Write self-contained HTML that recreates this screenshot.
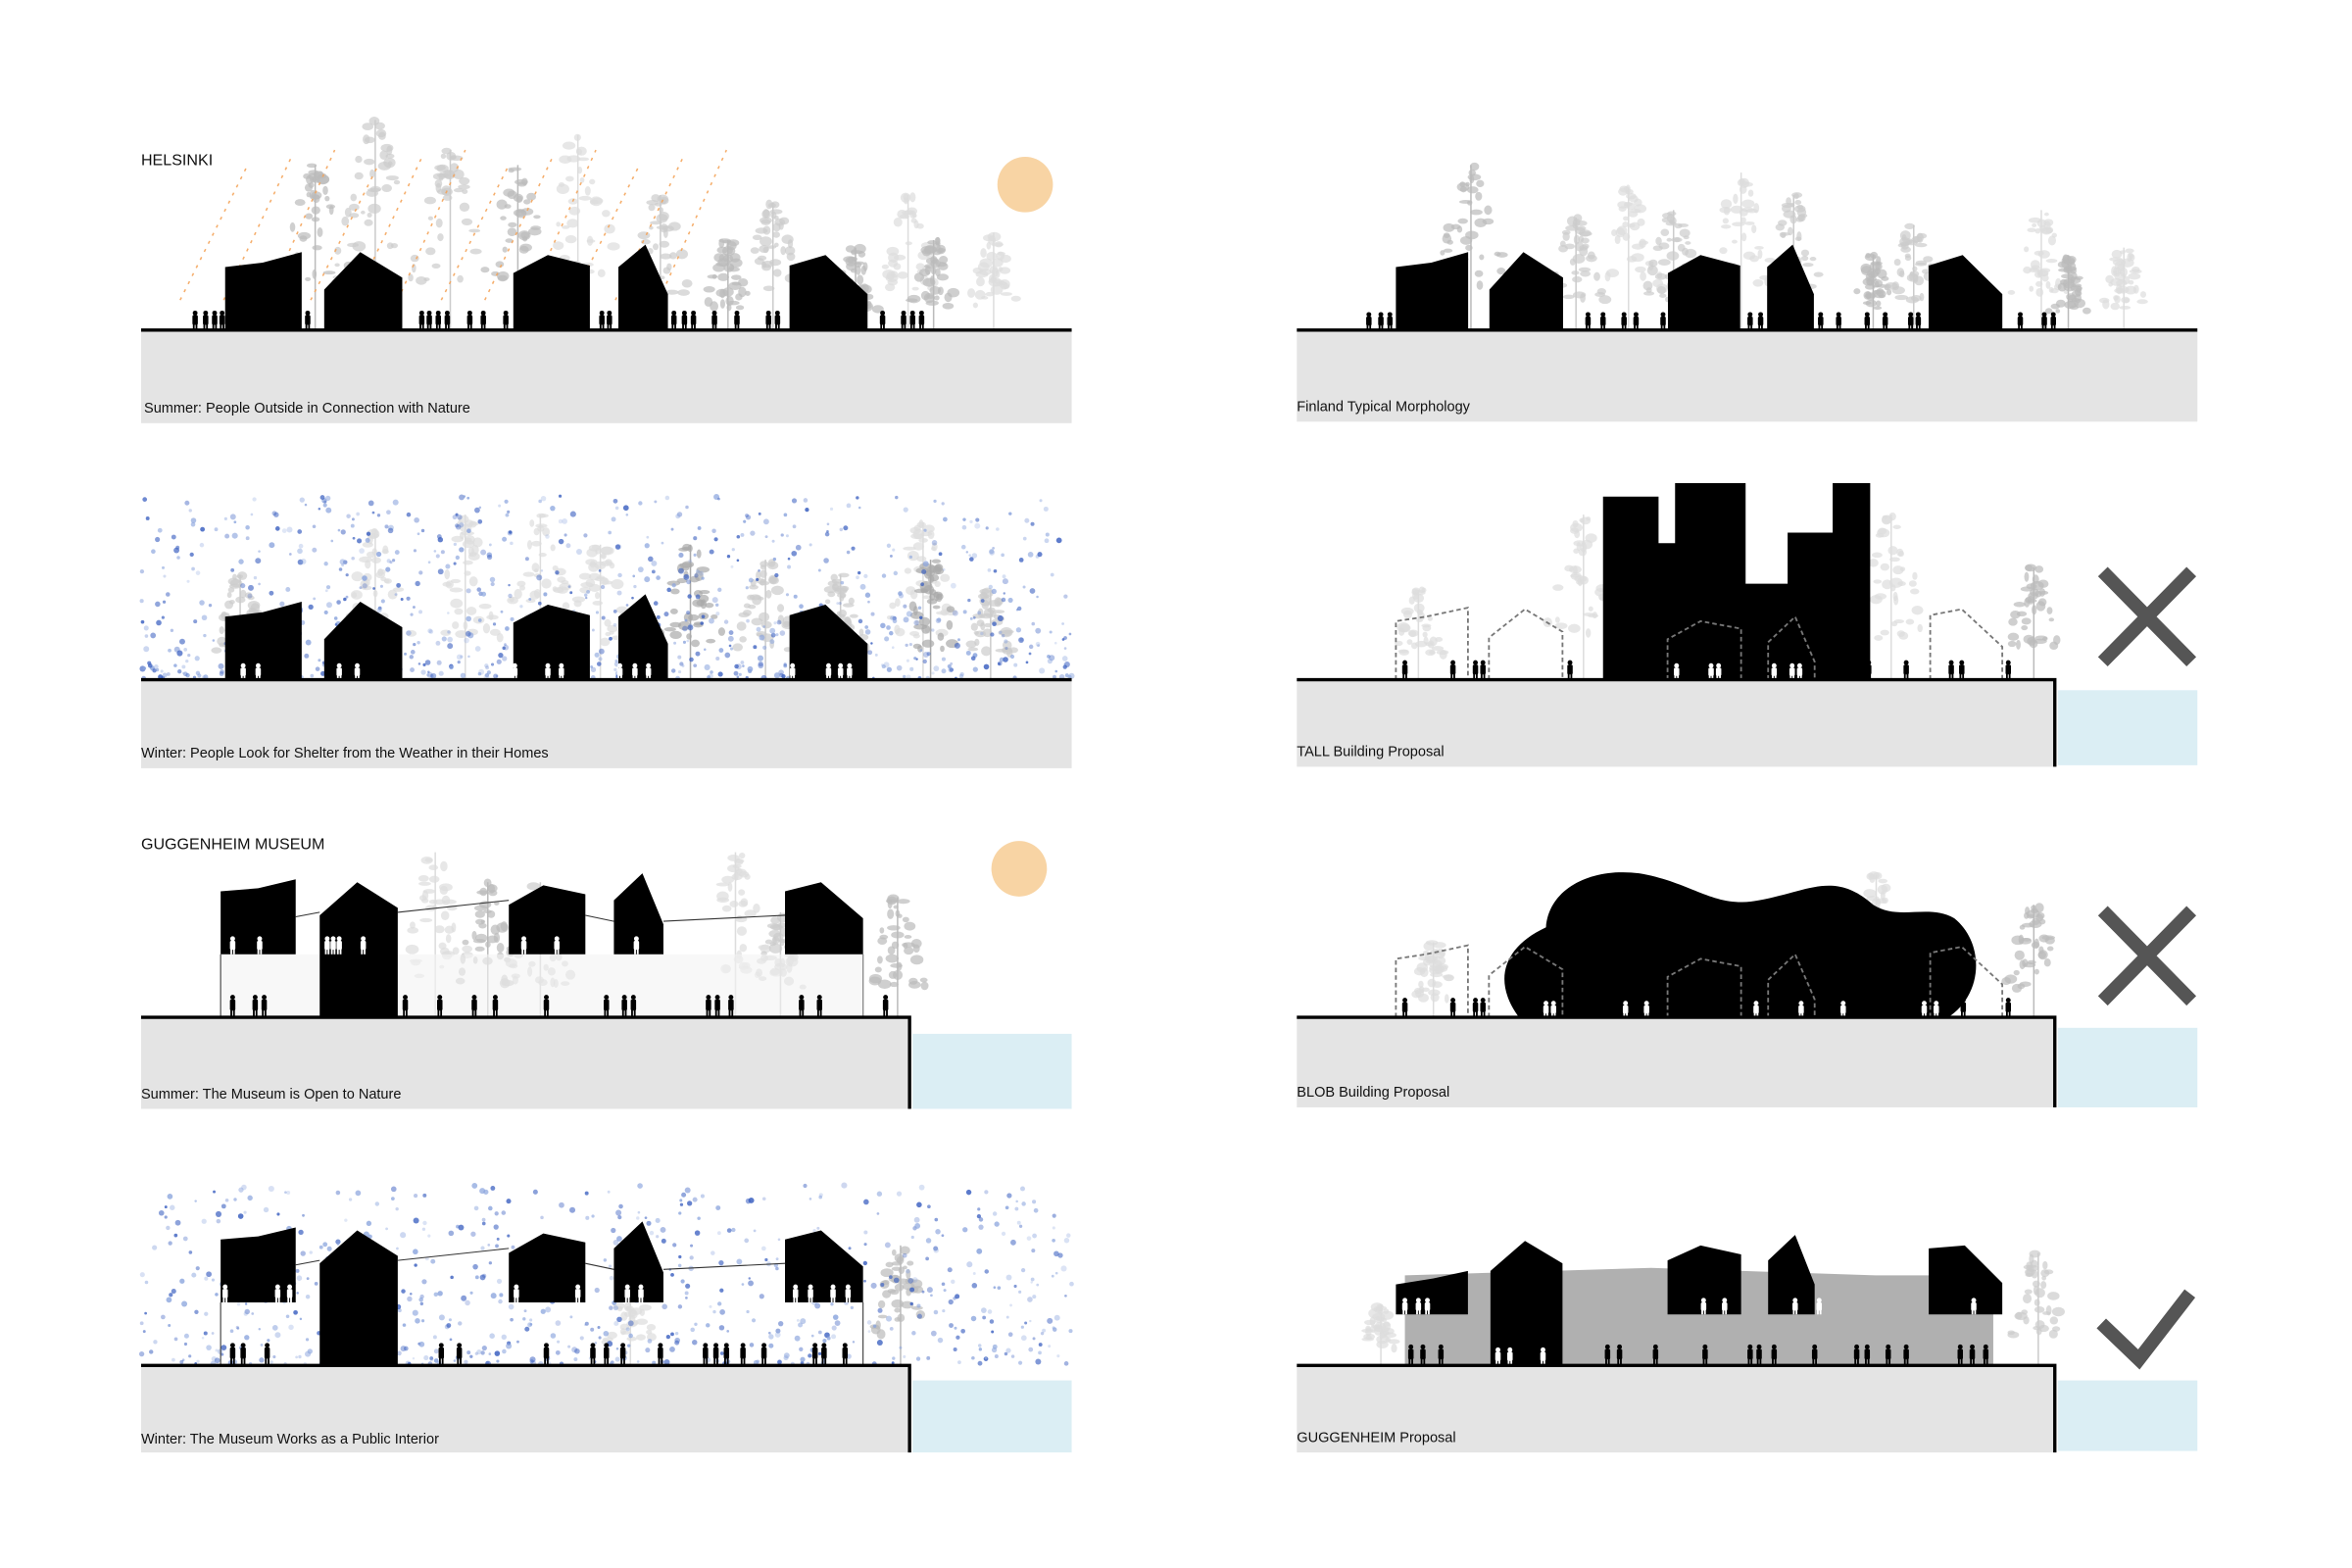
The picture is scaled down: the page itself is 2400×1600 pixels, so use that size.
<!DOCTYPE html>
<html><head><meta charset="utf-8"><style>
html,body{margin:0;padding:0;background:#fff;width:2400px;height:1600px;overflow:hidden}
svg{display:block}
text{font-family:"Liberation Sans",sans-serif;fill:#111}
</style></head><body>
<svg id="s" width="2400" height="1600" viewBox="0 0 1567 1045" preserveAspectRatio="none" xmlns="http://www.w3.org/2000/svg">
<g id="bg"></g>
<rect x="94" y="221" width="620" height="61" fill="#e4e4e4"/>
<rect x="94" y="454" width="620" height="58" fill="#e4e4e4"/>
<rect x="94" y="679" width="512" height="60" fill="#e4e4e4"/>
<rect x="608" y="689" width="106" height="50" fill="#dbeef4"/>
<rect x="94" y="911" width="512" height="57" fill="#e4e4e4"/>
<rect x="608" y="920" width="106" height="48" fill="#dbeef4"/>
<rect x="864" y="221" width="600" height="60" fill="#e4e4e4"/>
<rect x="864" y="454" width="505" height="57" fill="#e4e4e4"/>
<rect x="1371" y="460" width="93" height="50" fill="#dbeef4"/>
<rect x="864" y="679" width="505" height="59" fill="#e4e4e4"/>
<rect x="1371" y="685" width="93" height="53" fill="#dbeef4"/>
<rect x="864" y="911" width="505" height="57" fill="#e4e4e4"/>
<rect x="1371" y="920" width="93" height="47" fill="#dbeef4"/>
<g id="mid"></g>
<circle cx="683" cy="123" r="18.5" fill="#f8d4a4"/>
<circle cx="679" cy="579" r="18.5" fill="#f8d4a4"/>
<path d="M936,910 L936,850 L1100,845 L1250,850 L1328,850 L1328,910 Z" fill="#b0b0b0"/>
<g stroke="#333" stroke-width="0.7" fill="none">
<path d="M147,678 V636 M575,678 V636 M197,611 L213,608 M265,608 L339,600 M390,610 L409,614 M442,614 L523,610"/>
<path d="M147,910 V868 M575,910 V868 M197,843 L213,840 M265,840 L339,832 M390,842 L409,846 M442,846 L523,842"/>
</g>
<rect x="148" y="636" width="427" height="42" fill="#f4f4f4" opacity="0.6"/>
<g id="bld" fill="#000"></g>
<g id="fg"></g>
<g stroke="#000" stroke-width="2.2" fill="none">
<path d="M94,220 H714"/><path d="M94,453 H714"/>
<path d="M94,678 H606 V739"/><path d="M94,910 H606 V968"/>
<path d="M864,220 H1464"/><path d="M864,453 H1369 V511"/>
<path d="M864,678 H1369 V738"/><path d="M864,910 H1369 V968"/>
</g>
<g stroke="#555" stroke-width="9" fill="none">
<path d="M1401,381 L1460,441 M1460,381 L1401,441"/>
<path d="M1401,607 L1460,667 M1460,607 L1401,667"/>
<path d="M1400,882 L1425,906 L1459,862"/>
</g>
<text x="94" y="110" font-size="10.5">HELSINKI</text>
<text x="94" y="566" font-size="10.5">GUGGENHEIM MUSEUM</text>
<text x="96" y="275" font-size="9.5">Summer: People Outside in Connection with Nature</text>
<text x="94" y="505" font-size="9.5">Winter: People Look for Shelter from the Weather in their Homes</text>
<text x="94" y="732" font-size="9.5">Summer: The Museum is Open to Nature</text>
<text x="94" y="962" font-size="9.5">Winter: The Museum Works as a Public Interior</text>
<text x="864" y="274" font-size="9.5">Finland Typical Morphology</text>
<text x="864" y="504" font-size="9.5">TALL Building Proposal</text>
<text x="864" y="731" font-size="9.5">BLOB Building Proposal</text>
<text x="864" y="961" font-size="9.5">GUGGENHEIM Proposal</text>
</svg>
<script>
var NS="http://www.w3.org/2000/svg";
var seed=7;function R(){seed=(seed*16807)%2147483647;return (seed-1)/2147483646;}
function el(p,t,a){var e=document.createElementNS(NS,t);for(var k in a)e.setAttribute(k,a[k]);document.getElementById(p).appendChild(e);return e;}
function tree(g,x,base,h,c){
  el(g,"line",{x1:x,y1:base,x2:x,y2:base-h,stroke:c,"stroke-width":1});
  for(var i=0;i<40;i++){var t=R();var yy=base-h*0.25-t*h*0.75;var w=(1-t)*h*0.22+4;
   el(g,"ellipse",{cx:x+(R()-0.5)*2*w,cy:yy,rx:1.5+R()*3,ry:1.2+R()*2.2,fill:c,opacity:0.7});}
}
function person(g,x,base,c,h){h=h||13;
  el(g,"circle",{cx:x,cy:base-h+1.6,r:1.6,fill:c});
  el(g,"rect",{x:x-1.8,y:base-h+3,width:3.6,height:h*0.5,rx:1,fill:c});
  el(g,"rect",{x:x-1.5,y:base-h*0.5+2,width:1.2,height:h*0.5-2,fill:c});
  el(g,"rect",{x:x+0.3,y:base-h*0.5+2,width:1.2,height:h*0.5-2,fill:c});
}
function dots(x0,x1,y0,y1,n){for(var i=0;i<n;i++){var x=x0+R()*(x1-x0);var y=y1-Math.pow(R(),1.6)*(y1-y0);
 el("mid","circle",{cx:x,cy:y,r:0.8+R()*1.2,fill:R()<0.5?"#3a5fc0":"#8aa4dd",opacity:0.25+R()*0.6});}}
var tl=[[210,110,"#bbb"],[250,140,"#ccc"],[300,120,"#ccc"],[345,110,"#bbb"],[385,130,"#ddd"],[440,90,"#ccc"],[485,60,"#bbb"],[515,85,"#ccc"],[570,55,"#bbb"],[605,90,"#ddd"],[622,60,"#bbb"],[662,65,"#ddd"]];
tl.forEach(function(t){tree("bg",t[0],220,t[1],t[2]);});
var tl2=[[160,70,"#ccc"],[250,100,"#ddd"],[310,110,"#ddd"],[360,110,"#ddd"],[400,90,"#ddd"],[460,90,"#aaa"],[510,80,"#ccc"],[560,70,"#ccc"],[615,105,"#ddd"],[620,80,"#aaa"],[660,60,"#ccc"]];
tl2.forEach(function(t){tree("bg",t[0],453,t[1],t[2]);});
[[290,110,"#ddd"],[325,90,"#bbb"],[360,90,"#ccc"],[490,110,"#ddd"],[520,70,"#ccc"],[598,80,"#bbb"]].forEach(function(t){tree("bg",t[0],678,t[1],t[2]);});
[[600,80,"#bbb"],[420,60,"#ddd"]].forEach(function(t){tree("bg",t[0],910,t[1],t[2]);});
[[980,110,"#bbb"],[1050,75,"#ccc"],[1085,95,"#ddd"],[1115,80,"#ccc"],[1160,105,"#ddd"],[1195,90,"#ccc"],[1248,50,"#bbb"],[1275,70,"#ccc"],[1360,80,"#ddd"],[1378,50,"#bbb"],[1415,55,"#ddd"]].forEach(function(t){tree("bg",t[0],220,t[1],t[2]);});
[[945,60,"#ddd"],[1055,110,"#ddd"],[1260,110,"#ddd"],[1355,75,"#bbb"]].forEach(function(t){tree("bg",t[0],453,t[1],t[2]);});
[[955,50,"#ddd"],[1250,95,"#ddd"],[1355,75,"#bbb"]].forEach(function(t){tree("bg",t[0],678,t[1],t[2]);});
[[920,40,"#ddd"],[1358,75,"#ccc"]].forEach(function(t){tree("bg",t[0],910,t[1],t[2]);});
for(var i=0;i<12;i++){var x=120+i*29;el("mid","path",{d:"M"+x+",200 L"+(x+45)+","+(110-(i%3)*5),stroke:"#f4a45a","stroke-width":1,"stroke-dasharray":"2 4",fill:"none",opacity:0.9});}
dots(94,714,330,452,900);
dots(94,714,790,909,700);
var H=[[150,201,"150,178 175,175 201,168"],[216,268,"216,193 240,168 268,185"],[342,393,"342,182 365,170 393,177"],[412,445,"412,178 430,163 445,196"],[526,578,"526,177 550,170 578,196"]];
function houses(g,dy,tr){H.forEach(function(h){var pts=h[0]+",220 "+h[2]+" "+h[1]+",220";
 el(g,"polygon",{points:pts,transform:(tr||"")+" translate(0,"+dy+")"});});}
houses("bld",0,"");
houses("bld",233,"");
houses("bld",0,"translate(788.4,0) scale(0.944,1)");
function museum(dy){var g="bld";
 el(g,"polygon",{points:"147,594 172,592 197,586 197,636 147,636",transform:"translate(0,"+dy+")"});
 el(g,"polygon",{points:"213,610 238,588 265,605 265,678 213,678",transform:"translate(0,"+dy+")"});
 el(g,"polygon",{points:"339,603 362,590 390,596 390,636 339,636",transform:"translate(0,"+dy+")"});
 el(g,"polygon",{points:"409,600 428,582 442,616 442,636 409,636",transform:"translate(0,"+dy+")"});
 el(g,"polygon",{points:"523,594 547,588 575,612 575,636 523,636",transform:"translate(0,"+dy+")"});}
museum(0);museum(232);
el("bld","polygon",{points:"930,856 955,852 978,847 978,876 930,876"});
el("bld","polygon",{points:"993,847 1016,827 1041,842 1041,910 993,910"});
el("bld","polygon",{points:"1111,840 1133,830 1160,836 1160,876 1111,876"});
el("bld","polygon",{points:"1178,840 1196,823 1209,856 1209,876 1178,876"});
el("bld","polygon",{points:"1285,832 1309,830 1334,855 1334,876 1285,876"});
el("bld","polygon",{points:"1068,453 1068,331 1105,331 1105,362 1116,362 1116,322 1163,322 1163,389 1191,389 1191,355 1221,355 1221,322 1246,322 1246,453"});
el("bld","path",{d:"M1012,678 C995,655 1000,632 1030,618 C1032,592 1060,578 1092,582 C1128,588 1142,606 1172,600 C1205,594 1222,580 1248,603 C1265,614 1285,602 1302,612 C1322,628 1322,662 1298,678 Z"});
function dh(pts){el("fg","polyline",{points:pts,fill:"none",stroke:"#777","stroke-width":1.2,"stroke-dasharray":"3 2"});}
dh("930,453 930,414 950,411 978,405 978,453");dh("992,453 992,425 1016,406 1041,421 1041,453");
dh("1111,453 1111,426 1133,414 1160,419 1160,453");dh("1178,453 1178,428 1196,411 1209,441 1209,453");
dh("1286,453 1286,410 1307,406 1334,431 1334,453");
dh("930,678 930,639 950,636 978,630 978,678");dh("992,678 992,650 1016,631 1041,646 1041,678");
dh("1111,678 1111,651 1133,639 1160,644 1160,678");dh("1178,678 1178,653 1196,636 1209,666 1209,678");
dh("1286,678 1286,635 1307,631 1334,656 1334,678");
function row(list,base,c,h){list.forEach(function(x){person("fg",x,base,c,h);});}
row([130,137,143,148,205,281,286,292,298,313,322,337,401,406,449,456,462,476,491,512,518,588,602,608,614],220,"#000",13);
row([162,172,226,238,270,343,365,374,413,423,432,528,552,560,566],453,"#fff",11);
row([155,170,176,270,293,316,330,364,404,416,422,472,478,487,534,546,590],678,"#000",15);
row([218,222,242,155,173,226,349,371,424],636,"#fff",12);
row([155,162,178,218,231,245,294,306,364,395,404,415,440,470,477,484,495,509,543,549,563],910,"#000",15);
row([150,185,193,344,385,418,427,530,540,555,565],868,"#fff",12);
row([912,920,926,935,947,968,975,1000,1020,1030,1058,1068,1082,1090,1108,1120,1140,1146,1166,1173,1191,1198,1213,1225,1244,1256,1273,1278,1330,1346,1362,1368],220,"#000",12);
row([936,968,983,988,1046,1245,1270,1300,1307,1338],453,"#000",13);
row([1117,1140,1145,1182,1194,1199],453,"#fff",11);
row([936,968,983,988,1260,1280,1290,1308,1338],678,"#000",13);
row([1030,1035,1083,1097,1170,1200,1228,1282,1290],678,"#fff",11);
row([940,948,960,1071,1079,1103,1136,1166,1172,1182,1209,1237,1244,1258,1270,1306,1314,1323],910,"#000",14);
row([998,1006,1028],910,"#fff",12);
row([936,945,951,1135,1149,1196,1212,1315],876,"#fff",11);
</script>
</body></html>
